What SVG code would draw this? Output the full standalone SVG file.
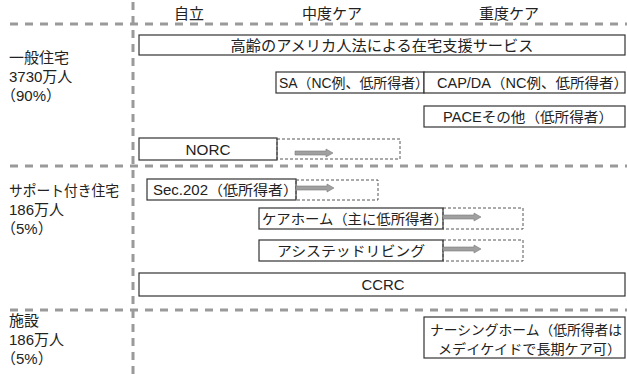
<svg xmlns="http://www.w3.org/2000/svg" width="627" height="374" viewBox="0 0 627 374">
<style>
text{font-family:"Liberation Sans","Noto Sans CJK JP",sans-serif;font-size:15px;fill:#222}
.b{font-size:14px}
.n{font-size:13.5px}
.c{text-anchor:middle}
.box{fill:#fff;stroke:#333;stroke-width:1.2}
.ext{fill:none;stroke:#444;stroke-width:0.9;stroke-dasharray:3 2}
.sep{stroke:#9a9a9a;stroke-width:3;stroke-dasharray:8 7;fill:none}
.arr{fill:#a0a0a0;stroke:#7a7a7a;stroke-width:0.6}
</style>
<g id="grid">
<line class="sep" x1="133" y1="2" x2="133" y2="374" style="stroke-dasharray:8 6"/>
<line class="sep" x1="10" y1="24" x2="627" y2="24"/>
<line class="sep" x1="10" y1="166" x2="627" y2="166"/>
<line class="sep" x1="10" y1="310" x2="627" y2="310"/>
</g>
<g id="header">
<text class="c" x="189" y="19">自立</text>
<text class="c" x="332" y="19">中度ケア</text>
<text class="c" x="509" y="19">重度ケア</text>
</g>
<g id="label-general">
<text x="9" y="63">一般住宅</text>
<text x="9" y="82">3730万人</text>
<text x="1" y="101">（90%）</text>
</g>
<g id="label-support">
<text x="9" y="196" textLength="110" lengthAdjust="spacingAndGlyphs">サポート付き住宅</text>
<text x="9" y="215">186万人</text>
<text x="1" y="234">（5%）</text>
</g>
<g id="label-facility">
<text x="9" y="326">施設</text>
<text x="9" y="345">186万人</text>
<text x="1" y="364">（5%）</text>
</g>
<g id="oaa">
<rect class="box" x="139" y="35" width="486" height="20"/>
<text class="c" x="382" y="50.5" textLength="303" lengthAdjust="spacingAndGlyphs">高齢のアメリカ人法による在宅支援サービス</text>
</g>
<g id="sa">
<rect class="box" x="276" y="72" width="148" height="21"/>
<text class="b" x="279" y="88" textLength="150" lengthAdjust="spacingAndGlyphs">SA（NC例、低所得者）</text>
</g>
<g id="capda">
<rect class="box" x="424" y="72" width="201" height="21"/>
<text class="b" x="437" y="88" textLength="191" lengthAdjust="spacingAndGlyphs">CAP/DA（NC例、低所得者）</text>
</g>
<g id="pace">
<rect class="box" x="424" y="106" width="201" height="21"/>
<text class="b" x="443" y="122" textLength="170" lengthAdjust="spacingAndGlyphs">PACEその他（低所得者）</text>
</g>
<g id="norc">
<rect class="box" x="139" y="138" width="138" height="22"/>
<text class="c" x="208" y="154.5" textLength="45" lengthAdjust="spacingAndGlyphs">NORC</text>
<rect class="ext" x="277" y="139" width="123" height="20"/>
</g>
<g id="sec202">
<rect class="box" x="147" y="179" width="149" height="21"/>
<text class="b" x="153" y="195" textLength="145" lengthAdjust="spacingAndGlyphs">Sec.202（低所得者）</text>
<rect class="ext" x="296" y="180" width="82" height="20"/>
</g>
<g id="carehome">
<rect class="box" x="259" y="208" width="184" height="21"/>
<text class="b" x="262" y="224" textLength="186" lengthAdjust="spacingAndGlyphs">ケアホーム（主に低所得者）</text>
<rect class="ext" x="443" y="208" width="80" height="21"/>
</g>
<g id="assisted">
<rect class="box" x="259" y="240" width="184" height="21"/>
<text class="b" x="277" y="256" textLength="148" lengthAdjust="spacingAndGlyphs">アシステッドリビング</text>
<rect class="ext" x="443" y="240" width="80" height="21"/>
</g>
<g id="ccrc">
<rect class="box" x="139" y="273" width="486" height="23"/>
<text class="c" x="383" y="290" textLength="43" lengthAdjust="spacingAndGlyphs">CCRC</text>
</g>
<g id="nursing">
<rect class="box" x="424" y="317" width="201" height="41"/>
<text class="n" x="430" y="334.5" textLength="192" lengthAdjust="spacingAndGlyphs">ナーシングホーム（低所得者は</text>
<text class="n" x="438" y="353.5" textLength="183" lengthAdjust="spacingAndGlyphs">メデイケイドで長期ケア可）</text>
</g>
<g id="connectors">
<path class="arr" d="M295,151 H326 V149 L333,153 L326,157 V155 H295 Z"/>
<path class="arr" d="M296,186 H327 V184 L334,188 L327,192 V190 H296 Z"/>
<path class="arr" d="M443,215 H474 V213 L481,217 L474,221 V219 H443 Z"/>
<path class="arr" d="M443,247 H474 V245 L481,249 L474,253 V251 H443 Z"/>
</g>
</svg>
